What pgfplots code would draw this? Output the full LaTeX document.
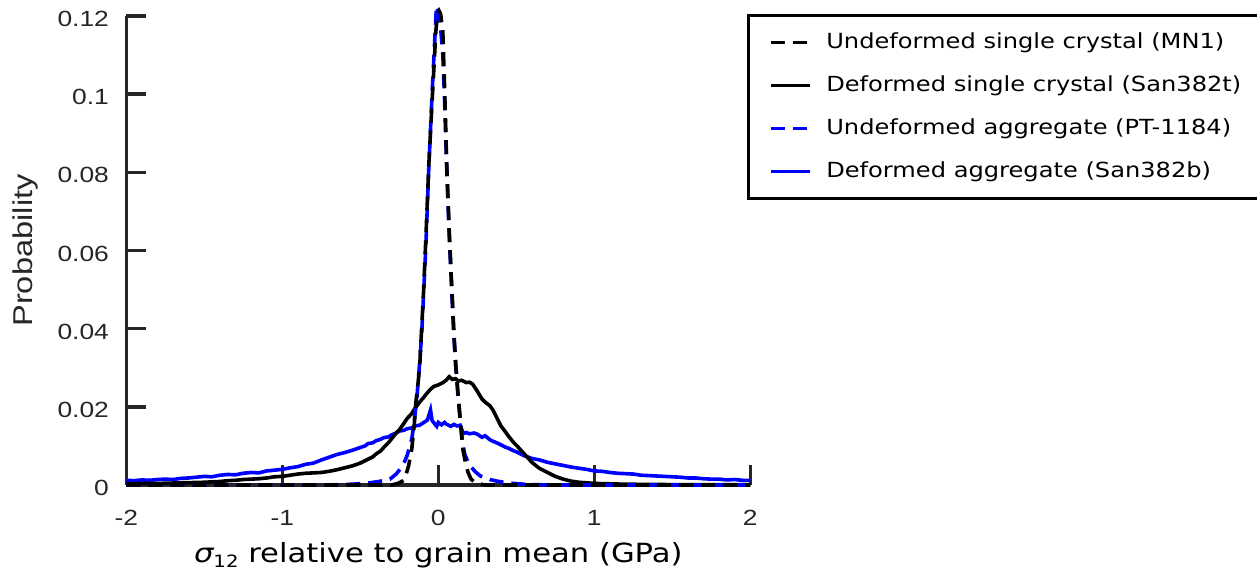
\documentclass[border=0pt]{standalone}
\usepackage{fontspec}
\setmainfont{DejaVu Sans}
\newfontfamily\dvfont[FakeStretch=1.16]{DejaVu Sans}
\newfontfamily\libfont[FakeStretch=1.2]{Liberation Sans}
\font\tkf="Liberation Sans:extend=1.2" at 11pt
\newcommand{\tklab}[1]{\hbox{\tkf #1}}
\usepackage{pgfplots}
\pgfplotsset{compat=1.18}
\definecolor{axgray}{HTML}{262626}
\definecolor{pureblue}{RGB}{0,0,255}

\begin{document}
\begin{tikzpicture}
\useasboundingbox (0,0) rectangle (628.5pt,285.5pt);
\begin{axis}[
  at={(63.15pt,43pt)}, anchor=south west,
  scale only axis, width=312pt, height=234.5pt,
  xmin=-2, xmax=2, ymin=0, ymax=0.12,
  clip=false,
  axis lines=left,
  axis line style={-, line width=1.7pt, color=axgray},
  tick align=inside,
  major tick length=10pt,
  tick style={line width=1.7pt, color=axgray},
  xtick={-2,-1,0,1,2}, xticklabels={\tklab{-2},\tklab{-1},\tklab{0},\tklab{1},\tklab{2}},
  ytick={0,0.02,0.04,0.06,0.08,0.1,0.12},
  yticklabels={\tklab{0},\tklab{0.02},\tklab{0.04},\tklab{0.06},\tklab{0.08},\tklab{0.1},\tklab{0.12}},
  xticklabel style={anchor=north, inner sep=0pt, yshift=-12.5pt, text=axgray},
  yticklabel style={anchor=east, inner sep=0pt, xshift=-8.5pt, yshift=-1.5pt, text=axgray},
  xlabel={{\itshape σ}\raisebox{-0.3ex}{\fontsize{8.5}{9}\selectfont 12} relative to grain mean (GPa)},
  xlabel style={font=\dvfont\fontsize{13.2}{15}\selectfont, at={(axis description cs:0.5,-0.1663)}, anchor=base, text=black},
  ylabel={Probability},
  ylabel style={font=\libfont\fontsize{13.6}{16}\selectfont, at={(axis description cs:-0.161,0.5)}, anchor=center, text=axgray},
  legend style={at={(1,1)}, anchor=north west, xshift=-1.75pt, yshift=0.75pt,
    draw=black, line width=1.5pt, fill=white, inner xsep=10.4pt, inner ysep=7.1pt,
    row sep=9pt, column sep=7.3pt, font=\dvfont\fontsize{10.4}{12}\selectfont,
    nodes={inner sep=0pt, text height=9pt, text depth=3.5pt}, cells={anchor=west}},
  legend image code/.code={\draw[#1] (0pt,0pt) -- (19.5pt,0pt);},
]
% Deformed aggregate (San382b)
\addplot[pureblue, line width=1.8pt, forget plot] coordinates {
(-2.00,0.0012) (-1.95,0.0011) (-1.90,0.0013) (-1.85,0.0012) (-1.80,0.0014) (-1.75,0.0015)
(-1.70,0.0014) (-1.65,0.0017) (-1.60,0.0018) (-1.55,0.0020) (-1.50,0.0022) (-1.45,0.0021)
(-1.40,0.0025) (-1.35,0.0027) (-1.30,0.0026) (-1.25,0.0030) (-1.20,0.0032) (-1.15,0.0031)
(-1.10,0.0036) (-1.05,0.0038) (-1.00,0.0040) (-0.95,0.0044) (-0.90,0.0047) (-0.85,0.0053)
(-0.80,0.0056) (-0.75,0.0064) (-0.70,0.0071) (-0.65,0.0078) (-0.60,0.0083) (-0.55,0.0089)
(-0.50,0.0096) (-0.47,0.0100) (-0.45,0.0106) (-0.42,0.0108) (-0.40,0.0113) (-0.37,0.0117)
(-0.35,0.0121) (-0.32,0.0123) (-0.30,0.0128) (-0.27,0.0133) (-0.25,0.0138) (-0.22,0.0140)
(-0.20,0.0144) (-0.17,0.0146) (-0.15,0.0151) (-0.12,0.0153) (-0.10,0.0158) (-0.07,0.0166)
(-0.05,0.0192) (-0.04,0.0165) (-0.03,0.0160) (-0.01,0.0150) (0.00,0.0160) (0.02,0.0154)
(0.04,0.0160) (0.05,0.0156) (0.08,0.0150) (0.10,0.0155) (0.12,0.0151) (0.14,0.0153)
(0.16,0.0132) (0.18,0.0134) (0.20,0.0131) (0.23,0.0133) (0.25,0.0130) (0.28,0.0122)
(0.30,0.0126) (0.33,0.0116) (0.35,0.0112) (0.38,0.0107) (0.40,0.0103) (0.43,0.0097)
(0.45,0.0094) (0.48,0.0088) (0.50,0.0085) (0.55,0.0075) (0.60,0.0068) (0.65,0.0064)
(0.70,0.0058) (0.75,0.0054) (0.80,0.0050) (0.85,0.0046)
(0.90,0.0043) (0.95,0.0040) (1.00,0.0036) (1.05,0.0035) (1.10,0.0032) (1.15,0.0030)
(1.20,0.0029) (1.25,0.0028) (1.30,0.0025) (1.35,0.0024) (1.40,0.0023) (1.45,0.0022)
(1.50,0.0021) (1.55,0.0020) (1.60,0.0018) (1.65,0.0018) (1.70,0.0016) (1.75,0.0015)
(1.80,0.0015) (1.85,0.0013) (1.90,0.0014) (1.95,0.0012) (2.00,0.0012)
};
% Deformed single crystal (San382t)
\addplot[black, line width=1.8pt, forget plot] coordinates {
(-2.00,0.0003) (-1.90,0.0004) (-1.80,0.0004) (-1.70,0.0005) (-1.60,0.0006) (-1.50,0.0007)
(-1.40,0.0009) (-1.35,0.0011) (-1.30,0.0012) (-1.25,0.0014) (-1.20,0.0015) (-1.15,0.0016)
(-1.10,0.0018) (-1.05,0.0021) (-1.00,0.0022) (-0.95,0.0025) (-0.90,0.0028) (-0.85,0.0030)
(-0.80,0.0031) (-0.75,0.0032) (-0.70,0.0035) (-0.65,0.0039) (-0.60,0.0044) (-0.55,0.0049)
(-0.50,0.0056) (-0.45,0.0066) (-0.42,0.0072) (-0.40,0.0079) (-0.37,0.0087) (-0.35,0.0096)
(-0.32,0.0108) (-0.30,0.0118) (-0.27,0.0133) (-0.25,0.0141) (-0.22,0.0158) (-0.20,0.0170)
(-0.17,0.0183) (-0.15,0.0196) (-0.12,0.0212) (-0.10,0.0221) (-0.07,0.0236) (-0.05,0.0245)
(-0.03,0.0252) (0.00,0.0256) (0.03,0.0262) (0.05,0.0268) (0.07,0.0277) (0.09,0.0270)
(0.11,0.0272) (0.13,0.0266) (0.15,0.0268) (0.18,0.0262) (0.20,0.0263) (0.22,0.0258)
(0.25,0.0240) (0.28,0.0220) (0.30,0.0212) (0.33,0.0203) (0.35,0.0192) (0.38,0.0168)
(0.40,0.0152) (0.43,0.0136) (0.45,0.0125) (0.48,0.0110) (0.50,0.0102) (0.55,0.0080)
(0.60,0.0058) (0.65,0.0042) (0.70,0.0032) (0.75,0.0022) (0.80,0.0015) (0.85,0.0010)
(0.90,0.0007) (1.00,0.0004) (1.20,0.0002) (1.50,0.0001) (2.00,0.0001)
};
% Undeformed aggregate (PT-1184)
\addplot[pureblue, line width=1.8pt, dash pattern=on 7pt off 4pt, forget plot] coordinates {
(-2,0) (-0.7,0) (-0.55,0.0002) (-0.45,0.0005) (-0.38,0.0009) (-0.31,0.0015) (-0.27,0.0028)
(-0.228,0.0049) (-0.2,0.0075) (-0.17,0.0118) (-0.155,0.016) (-0.138,0.022) (-0.12,0.031)
(-0.106,0.039) (-0.093,0.05) (-0.08,0.061) (-0.061,0.081) (-0.04,0.1) (-0.025,0.112)
(-0.012,0.1226) (0.0,0.121) (0.015,0.117) (0.029,0.11) (0.04,0.099) (0.054,0.081)
(0.07,0.064) (0.087,0.049) (0.1,0.038) (0.112,0.0305) (0.125,0.0235) (0.14,0.017)
(0.155,0.011) (0.17,0.0078) (0.2,0.005) (0.24,0.0033) (0.27,0.0023) (0.33,0.0014)
(0.375,0.001) (0.45,0.0005) (0.55,0.0002) (0.7,0) (2,0)
};
% Undeformed single crystal (MN1)
\addplot[black, line width=1.8pt, dash pattern=on 7pt off 4pt, forget plot] coordinates {
(-2,0) (-0.3,0) (-0.26,0.0004) (-0.23,0.001) (-0.215,0.0015) (-0.19,0.005) (-0.17,0.0092)
(-0.155,0.015) (-0.144,0.021) (-0.13,0.026) (-0.119,0.0305) (-0.107,0.04) (-0.095,0.049)
(-0.08,0.063) (-0.061,0.0818) (-0.04,0.098) (-0.025,0.109) (-0.016,0.116) (-0.005,0.1205)
(0.005,0.1213) (0.015,0.1205) (0.029,0.116) (0.04,0.102) (0.054,0.0818) (0.07,0.065)
(0.087,0.05) (0.1,0.039) (0.112,0.0305) (0.125,0.024) (0.138,0.0177) (0.157,0.0092)
(0.175,0.0055) (0.19,0.0033) (0.21,0.0015) (0.23,0.0008) (0.26,0.0003) (0.3,0) (2,0)
};
\addlegendimage{black, line width=1.8pt, dash pattern=on 7pt off 4pt}
\addlegendentry{Undeformed single crystal (MN1)}
\addlegendimage{black, line width=1.8pt}
\addlegendentry{Deformed single crystal (San382t)}
\addlegendimage{pureblue, line width=1.8pt, dash pattern=on 7pt off 4pt}
\addlegendentry{Undeformed aggregate (PT-1184)}
\addlegendimage{pureblue, line width=1.8pt}
\addlegendentry{Deformed aggregate (San382b)}
\end{axis}
\end{tikzpicture}
\end{document}
